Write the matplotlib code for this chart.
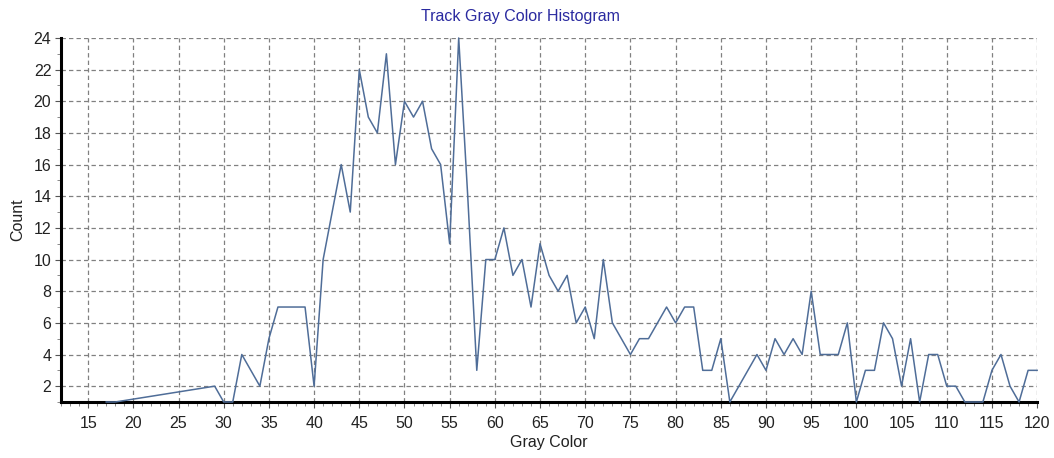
import matplotlib
matplotlib.use("Agg")
import matplotlib.pyplot as plt
from matplotlib.ticker import MultipleLocator

gray = [17, 18, 29, 30, 31, 32, 34, 35, 36, 37, 38, 39, 40, 41, 42, 43, 44, 45,
        46, 47, 48, 49, 50, 51, 52, 53, 54, 55, 56, 57, 58, 59, 60, 61, 62, 63,
        64, 65, 66, 67, 68, 69, 70, 71, 72, 73, 74, 75, 76, 77, 78, 79, 80, 81,
        82, 83, 84, 85, 86, 87, 88, 89, 90, 91, 92, 93, 94, 95, 96, 97, 98, 99,
        100, 101, 102, 103, 104, 105, 106, 107, 108, 109, 110, 111, 112, 113,
        114, 115, 116, 117, 118, 119, 120]
count = [1, 1, 2, 1, 1, 4, 2, 5, 7, 7, 7, 7, 2, 10, 13, 16, 13, 22,
         19, 18, 23, 16, 20, 19, 20, 17, 16, 11, 24, 14, 3, 10, 10, 12, 9, 10,
         7, 11, 9, 8, 9, 6, 7, 5, 10, 6, 5, 4, 5, 5, 6, 7, 6, 7,
         7, 3, 3, 5, 1, 2, 3, 4, 3, 5, 4, 5, 4, 8, 4, 4, 4, 6,
         1, 3, 3, 6, 5, 2, 5, 1, 4, 4, 2, 2, 1, 1,
         1, 3, 4, 2, 1, 3, 3]

title = "Track Gray Color Histogram"
xlabel = "Gray Color"
ylabel = "Count"

plt.rcParams['font.family'] = ['Liberation Sans', 'DejaVu Sans']

fig = plt.figure(figsize=(10.54, 4.58), dpi=100)
ax = fig.add_axes([0.0579, 0.1223, 0.9261, 0.7948])

ax.plot(gray, count, color='#4f6d98', linewidth=1.1, zorder=3, clip_on=False)

ax.set_xlim(12, 120)
ax.set_ylim(1, 24)
ax.xaxis.set_minor_locator(MultipleLocator(1))
ax.yaxis.set_minor_locator(MultipleLocator(1))
ax.set_xticks(range(15, 121, 5))
ax.set_yticks(range(2, 25, 2))

ax.grid(True, which='major', color='#808080', linestyle=(0, (3.5, 2.5)), linewidth=0.9)

for s in ['top', 'right']:
    ax.spines[s].set_visible(False)
for s in ['left', 'bottom']:
    ax.spines[s].set_linewidth(2.2)
    ax.spines[s].set_color('black')

ax.tick_params(axis='both', which='major', length=4, width=0.8, color='#555555',
               labelsize=11.5, labelcolor='#222222')
ax.tick_params(axis='x', which='major', pad=6)
ax.tick_params(axis='y', which='major', pad=3)
ax.tick_params(axis='both', which='minor', length=3, width=0.6, color='#777777')

fig.text(0.494, 0.963, title, fontsize=11.5, color='#2a2aa0', ha='center', va='center')
ax.set_xlabel(xlabel, fontsize=11.5, color='#222222', labelpad=3)
ax.set_ylabel(ylabel, fontsize=11.5, color='#222222', labelpad=6)

fig.savefig("out.png", dpi=100)
